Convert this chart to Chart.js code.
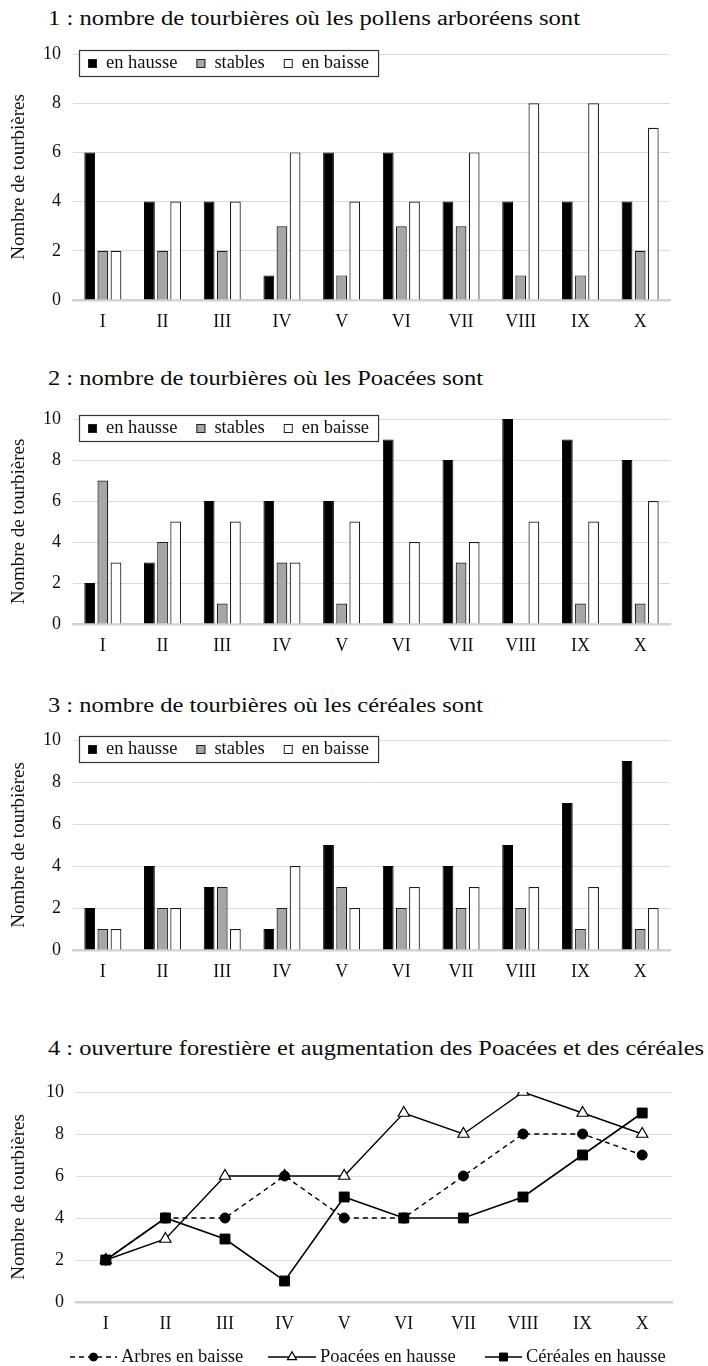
<!DOCTYPE html>
<html>
<head>
<meta charset="utf-8">
<script src="https://cdn.jsdelivr.net/npm/chart.js@4/dist/chart.umd.min.js"></script>
<style>
  html, body { margin: 0; padding: 0; background: #fff; }
  body { width: 708px; height: 1366px; position: relative; overflow: hidden; font-family: "Liberation Serif", serif; }
  .ttl { position: absolute; left: 48px; display: inline-block; font-size: 20.5px; line-height: 20px; white-space: nowrap; color: #0c0c0c; transform-origin: 0 50%; }
  .panel { position: absolute; left: 0; width: 708px; }
  canvas { display: block; }
</style>
</head>
<body>

<div class="ttl" style="top:8px" data-w="532">1 : nombre de tourbières où les pollens arboréens sont</div>
<div class="ttl" style="top:368px" data-w="435">2 : nombre de tourbières où les Poacées sont</div>
<div class="ttl" style="top:695px" data-w="435">3 : nombre de tourbières où les céréales sont</div>
<div class="ttl" style="top:1038px" data-w="656">4 : ouverture forestière et augmentation des Poacées et des céréales</div>

<div class="panel" style="top:30px;height:320px"><canvas id="c1" width="708" height="320"></canvas></div>
<div class="panel" style="top:395px;height:280px"><canvas id="c2" width="708" height="280"></canvas></div>
<div class="panel" style="top:716px;height:285px"><canvas id="c3" width="708" height="285"></canvas></div>
<div class="panel" style="top:1068px;height:298px"><canvas id="c4" width="708" height="298"></canvas></div>

<script>
// ---- data ----
const categories = ['I', 'II', 'III', 'IV', 'V', 'VI', 'VII', 'VIII', 'IX', 'X'];
const yAxisLabel = 'Nombre de tourbières';
const barSeriesNames = ['en hausse', 'stables', 'en baisse'];

// 1 : pollens arboréens
const arbresHausse  = [6, 4, 4, 1, 6, 6, 4, 4, 4, 4];
const arbresStables = [2, 2, 2, 3, 1, 3, 3, 1, 1, 2];
const arbresBaisse  = [2, 4, 4, 6, 4, 4, 6, 8, 8, 7];

// 2 : Poacées
const poaceesHausse  = [2, 3, 6, 6, 6, 9, 8, 10, 9, 8];
const poaceesStables = [7, 4, 1, 3, 1, 0, 3, 0, 1, 1];
const poaceesBaisse  = [3, 5, 5, 3, 5, 4, 4, 5, 5, 6];

// 3 : céréales
const cerealesHausse  = [2, 4, 3, 1, 5, 4, 4, 5, 7, 9];
const cerealesStables = [1, 2, 3, 2, 3, 2, 2, 2, 1, 1];
const cerealesBaisse  = [1, 2, 1, 4, 2, 3, 3, 3, 3, 2];

// 4 : synthesis lines
const lineSeriesNames = ['Arbres en baisse', 'Poacées en hausse', 'Céréales en hausse'];

const FONT = '"Liberation Serif", "Times New Roman", serif';
const INK = '#111';

// stretch the HTML headings to their set widths
document.querySelectorAll('.ttl').forEach(el => {
  const w = el.getBoundingClientRect().width;
  el.style.transform = 'scaleX(' + (Number(el.dataset.w) / w) + ')';
});

// boxed legend drawn inside the plot, top-left
const boxLegend = {
  id: 'boxLegend',
  afterDraw(chart, args, opts) {
    if (!opts || !opts.display) return;
    const ctx = chart.ctx;
    const a = chart.chartArea;
    ctx.save();
    ctx.font = opts.fontSize + 'px ' + FONT;
    const items = chart.data.datasets;
    const widths = items.map(d => ctx.measureText(d.label).width);
    let w = opts.padX * 2;
    items.forEach((d, i) => { w += opts.box + opts.gap + widths[i] + (i < items.length - 1 ? opts.itemGap : 0); });
    const x0 = Math.round(a.left + opts.dx), y0 = Math.round(a.top + opts.dy), h = opts.height;
    ctx.fillStyle = '#fff';
    ctx.fillRect(x0, y0, w, h);
    ctx.strokeStyle = '#333';
    ctx.lineWidth = 1.2;
    ctx.strokeRect(x0 + 0.5, y0 + 0.5, w, h);
    const cy = y0 + h / 2 + 0.5;
    let x = x0 + opts.padX;
    items.forEach((d, i) => {
      ctx.fillStyle = d.backgroundColor;
      ctx.fillRect(x, cy - opts.box / 2, opts.box, opts.box);
      ctx.strokeStyle = '#222';
      ctx.lineWidth = 1;
      ctx.strokeRect(x + 0.5, cy - opts.box / 2 + 0.5, opts.box - 1, opts.box - 1);
      x += opts.box + opts.gap;
      ctx.fillStyle = INK;
      ctx.textBaseline = 'middle';
      ctx.textAlign = 'left';
      ctx.fillText(d.label, x, cy);
      x += widths[i] + opts.itemGap;
    });
    ctx.restore();
  }
};

// legend row under the line chart: line sample + marker + label
const lineLegend = {
  id: 'lineLegend',
  afterDraw(chart, args, opts) {
    if (!opts || !opts.display) return;
    const ctx = chart.ctx;
    ctx.save();
    ctx.font = opts.fontSize + 'px ' + FONT;
    chart.data.datasets.forEach((d, i) => {
      const x = opts.starts[i], len = opts.lengths[i], y = opts.y;
      ctx.strokeStyle = d.borderColor;
      ctx.lineWidth = d.borderWidth;
      ctx.setLineDash(d.borderDash || []);
      ctx.beginPath();
      ctx.moveTo(x, y);
      ctx.lineTo(x + len, y);
      ctx.stroke();
      ctx.setLineDash([]);
      ctx.fillStyle = d.pointBackgroundColor;
      ctx.strokeStyle = d.pointBorderColor;
      ctx.lineWidth = d.pointBorderWidth;
      Chart.helpers.drawPoint(ctx, { pointStyle: d.pointStyle, radius: d.pointRadius * 0.8, borderWidth: d.pointBorderWidth, rotation: 0 }, x + len / 2, y);
      ctx.fillStyle = INK;
      ctx.textBaseline = 'middle';
      ctx.textAlign = 'left';
      ctx.fillText(d.label, x + len + 4, y);
    });
    ctx.restore();
  }
};

function makeScales(yWidth, xHeight, offset) {
  return {
    x: {
      offset: offset,
      grid: { display: false, drawTicks: false, offset: offset },
      border: { display: true, color: '#d2d2d2', width: 2.5 },
      ticks: { color: INK, font: { family: FONT, size: 18 }, padding: 11, maxRotation: 0, autoSkip: false },
      afterFit(s) { s.height = xHeight; }
    },
    y: {
      min: 0, max: 10,
      ticks: { stepSize: 2, color: INK, font: { family: FONT, size: 18 }, padding: 12 },
      grid: { color: '#dadada', lineWidth: 1, drawTicks: false },
      border: { display: false },
      title: { display: true, text: yAxisLabel, color: INK, font: { family: FONT, size: 19 }, padding: { top: 8, bottom: 0 } },
      afterFit(s) { s.width = yWidth; }
    }
  };
}

function barChart(id, hausse, stables, baisse, pad) {
  return new Chart(document.getElementById(id), {
    type: 'bar',
    data: {
      labels: categories,
      datasets: [
        { label: barSeriesNames[0], data: hausse,  backgroundColor: '#000000', borderColor: '#000000', borderWidth: 1 },
        { label: barSeriesNames[1], data: stables, backgroundColor: '#a6a6a6', borderColor: '#1c1c1c', borderWidth: 1.2 },
        { label: barSeriesNames[2], data: baisse,  backgroundColor: '#ffffff', borderColor: '#1c1c1c', borderWidth: 1.2 }
      ]
    },
    options: {
      responsive: false,
      animation: false,
      events: [],
      categoryPercentage: 0.66,
      barPercentage: 0.82,
      layout: { padding: pad },
      scales: makeScales(73, 40, true),
      plugins: {
        legend: { display: false },
        tooltip: { enabled: false },
        boxLegend: { display: true, dx: 6, dy: -4, height: 26, padX: 9, box: 9, gap: 9, itemGap: 19, fontSize: 18.5 }
      }
    },
    plugins: [boxLegend]
  });
}

barChart('c1', arbresHausse, arbresStables, arbresBaisse, { top: 24, right: 38, bottom: 10, left: 0 });
barChart('c2', poaceesHausse, poaceesStables, poaceesBaisse, { top: 24, right: 38, bottom: 11, left: 0 });
barChart('c3', cerealesHausse, cerealesStables, cerealesBaisse, { top: 24, right: 38, bottom: 11, left: 0 });

new Chart(document.getElementById('c4'), {
  type: 'line',
  data: {
    labels: categories,
    datasets: [
      { label: lineSeriesNames[0], data: arbresBaisse, order: 1,
        borderColor: '#000', borderWidth: 1.4, borderDash: [5, 4],
        pointStyle: 'circle', pointRadius: 5, pointBackgroundColor: '#000', pointBorderColor: '#000', pointBorderWidth: 1 },
      { label: lineSeriesNames[1], data: poaceesHausse, order: 2,
        borderColor: '#000', borderWidth: 1.4,
        pointStyle: 'triangle', pointRadius: 6.5, pointBackgroundColor: '#fff', pointBorderColor: '#000', pointBorderWidth: 1.2 },
      { label: lineSeriesNames[2], data: cerealesHausse, order: 0,
        borderColor: '#000', borderWidth: 1.6,
        pointStyle: 'rect', pointRadius: 7, pointBackgroundColor: '#000', pointBorderColor: '#000', pointBorderWidth: 1 }
    ]
  },
  options: {
    responsive: false,
    animation: false,
    events: [],
    layout: { padding: { top: 24, right: 36, bottom: 24, left: 0 } },
    scales: makeScales(76, 40, true),
    elements: { line: { tension: 0, fill: false } },
    plugins: {
      legend: { display: false },
      tooltip: { enabled: false },
      lineLegend: { display: true, y: 289, starts: [70, 268, 485], lengths: [47, 48, 37], fontSize: 18.5 }
    }
  },
  plugins: [lineLegend]
});
</script>
</body>
</html>
